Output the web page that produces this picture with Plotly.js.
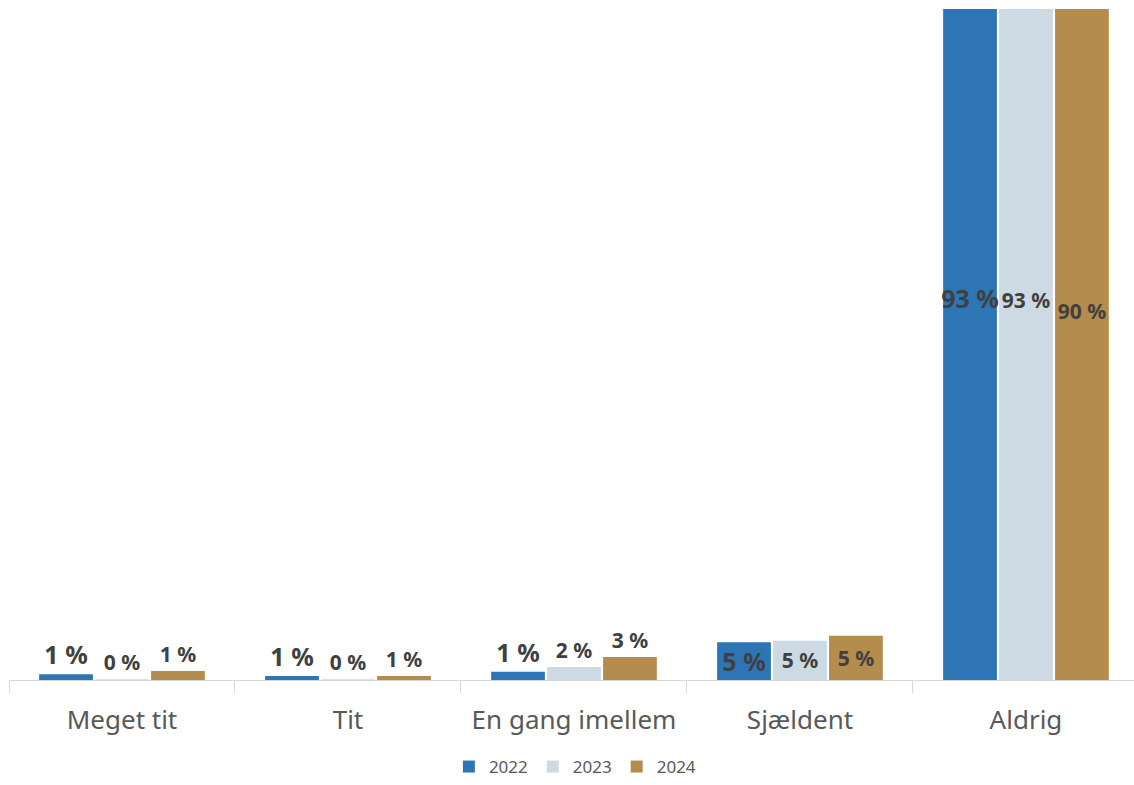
<!DOCTYPE html>
<html>
<head>
<meta charset="utf-8">
<script src="https://cdn.plot.ly/plotly-3.0.1.min.js"></script>
<style>
  html, body { margin: 0; padding: 0; background: #fff; }
  #chart { width: 1134px; height: 785px; }
</style>
</head>
<body>
<div id="chart"></div>
<script>
const categories = ['Meget tit', 'Tit', 'En gang imellem', 'Sjældent', 'Aldrig']
const years = ['2022', '2023', '2024']
const values2022 = [0.7, 0.5, 1.0, 4.6, 93.4]
const values2023 = [0.1, 0.1, 1.6, 4.8, 92.8]
const values2024 = [1.1, 0.5, 2.8, 5.4, 90.2]

const colors = ['#2E75B6', '#CDDAE4', '#B38C4E']
const labelSizes = [25, 21, 21]
const labelColor = '#404040'

// short bars get their label above, the rest inside
const makeTrace = (name, vals, i) => ({
  type: 'bar',
  name: name,
  x: categories,
  y: vals,
  marker: { color: colors[i] },
  text: vals.map(v => Math.round(v) + ' %'),
  textposition: vals.map(v => v < 3 ? 'outside' : 'inside'),
  insidetextanchor: 'middle',
  textangle: 0,
  constraintext: 'none',
  textfont: { family: 'Noto Sans', size: labelSizes[i], color: labelColor, weight: 'bold' },
  hoverinfo: 'x+y+name'
})

const data = [
  makeTrace(years[0], values2022, 0),
  makeTrace(years[1], values2023, 1),
  makeTrace(years[2], values2024, 2)
]

const layout = {
  width: 1134,
  height: 785,
  margin: { l: 9, r: 0, t: 9, b: 102 },
  paper_bgcolor: '#ffffff',
  plot_bgcolor: '#ffffff',
  font: { family: 'Noto Sans', color: '#595959' },
  barmode: 'group',
  bargap: 0.257,
  bargroupgap: 0.04,
  showlegend: true,
  legend: {
    orientation: 'h',
    x: 0.503,
    xanchor: 'center',
    y: -0.13,
    yanchor: 'middle',
    font: { size: 17, color: '#595959' },
    itemwidth: 30
  },
  xaxis: {
    type: 'category',
    range: [-0.5, 4.478],
    showline: true,
    linecolor: '#d9d9d9',
    linewidth: 1,
    ticks: 'outside',
    tickson: 'boundaries',
    ticklen: 12,
    tickcolor: '#d9d9d9',
    ticklabelstandoff: 17,
    tickfont: { size: 26, color: '#595959' },
    showgrid: false,
    zeroline: false
  },
  yaxis: {
    range: [0, 82],
    visible: false,
    showgrid: false,
    zeroline: false
  }
}

Plotly.newPlot('chart', data, layout, { displayModeBar: false, staticPlot: true })
</script>
</body>
</html>
